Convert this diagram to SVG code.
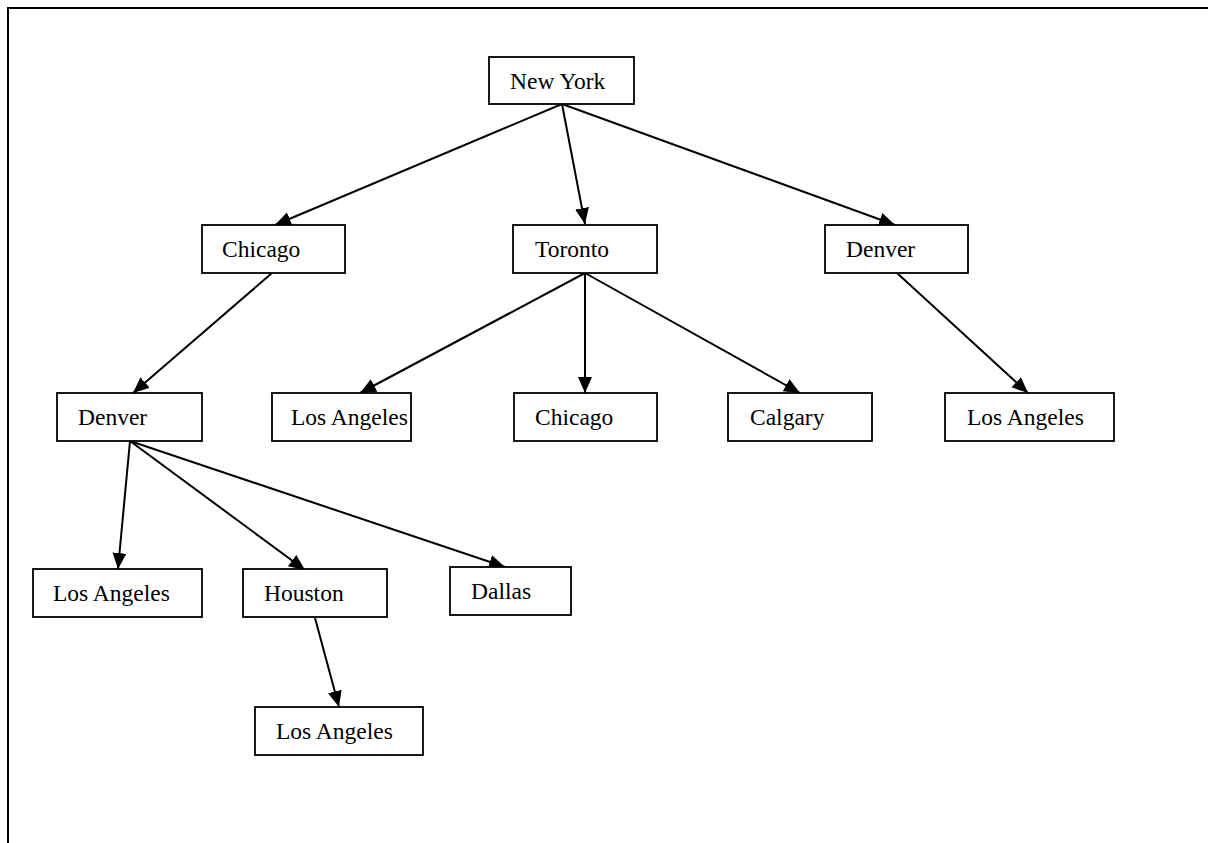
<svg xmlns="http://www.w3.org/2000/svg" width="1208" height="843" viewBox="0 0 1208 843">
  <style>
    .box { fill: #fff; stroke: #000; stroke-width: 1.8; }
    .lbl { font-family: "Liberation Serif", "Times New Roman", serif; font-size: 23.5px; fill: #000; }
    .edge { stroke: #000; stroke-width: 2; fill: none; marker-end: url(#head); }
    .frame { stroke: #000; stroke-width: 2; }
  </style>
  <defs>
    <marker id="head" markerUnits="userSpaceOnUse" markerWidth="18" markerHeight="15" refX="16" refY="7" orient="auto">
      <path d="M0,0 L16,7 L0,14 z" fill="#000"/>
    </marker>
  </defs>
  <rect width="1208" height="843" fill="#fff"/>
  <!-- page frame: top and left edges -->
  <line class="frame" x1="7" y1="8" x2="1208" y2="8"/>
  <line class="frame" x1="8" y1="7" x2="8" y2="843"/>

  <g id="connectors">
    <line class="edge" x1="562" y1="104" x2="275" y2="225"/>
    <line class="edge" x1="562" y1="104" x2="585" y2="224"/>
    <line class="edge" x1="562" y1="104" x2="895" y2="225"/>
    <line class="edge" x1="272" y1="273" x2="133" y2="393"/>
    <line class="edge" x1="585" y1="273" x2="360" y2="393"/>
    <line class="edge" x1="585" y1="273" x2="585" y2="393"/>
    <line class="edge" x1="585" y1="273" x2="800" y2="393"/>
    <line class="edge" x1="897" y1="273" x2="1028" y2="393"/>
    <line class="edge" x1="130" y1="441" x2="118" y2="569"/>
    <line class="edge" x1="130" y1="441" x2="305" y2="570"/>
    <line class="edge" x1="130" y1="441" x2="505" y2="567"/>
    <line class="edge" x1="315" y1="618" x2="339" y2="707"/>
  </g>

  <g id="n-newyork"><rect class="box" x="489" y="57" width="145" height="47"/><text class="lbl" x="510" y="89">New York</text></g>
  <g id="n-chicago1"><rect class="box" x="202" y="225" width="143" height="48"/><text class="lbl" x="222" y="257">Chicago</text></g>
  <g id="n-toronto"><rect class="box" x="513" y="225" width="144" height="48"/><text class="lbl" x="535" y="257">Toronto</text></g>
  <g id="n-denver1"><rect class="box" x="825" y="225" width="143" height="48"/><text class="lbl" x="846" y="257">Denver</text></g>
  <g id="n-denver2"><rect class="box" x="57" y="393" width="145" height="48"/><text class="lbl" x="78" y="425">Denver</text></g>
  <g id="n-la1"><rect class="box" x="272" y="393" width="139" height="48"/><text class="lbl" x="291" y="425">Los Angeles</text></g>
  <g id="n-chicago2"><rect class="box" x="514" y="393" width="143" height="48"/><text class="lbl" x="535" y="425">Chicago</text></g>
  <g id="n-calgary"><rect class="box" x="728" y="393" width="144" height="48"/><text class="lbl" x="750" y="425">Calgary</text></g>
  <g id="n-la2"><rect class="box" x="945" y="393" width="169" height="48"/><text class="lbl" x="967" y="425">Los Angeles</text></g>
  <g id="n-la3"><rect class="box" x="33" y="569" width="169" height="48"/><text class="lbl" x="53" y="601">Los Angeles</text></g>
  <g id="n-houston"><rect class="box" x="243" y="569" width="144" height="48"/><text class="lbl" x="264" y="601">Houston</text></g>
  <g id="n-dallas"><rect class="box" x="450" y="567" width="121" height="48"/><text class="lbl" x="471" y="599">Dallas</text></g>
  <g id="n-la4"><rect class="box" x="255" y="707" width="168" height="48"/><text class="lbl" x="276" y="739">Los Angeles</text></g>
</svg>
